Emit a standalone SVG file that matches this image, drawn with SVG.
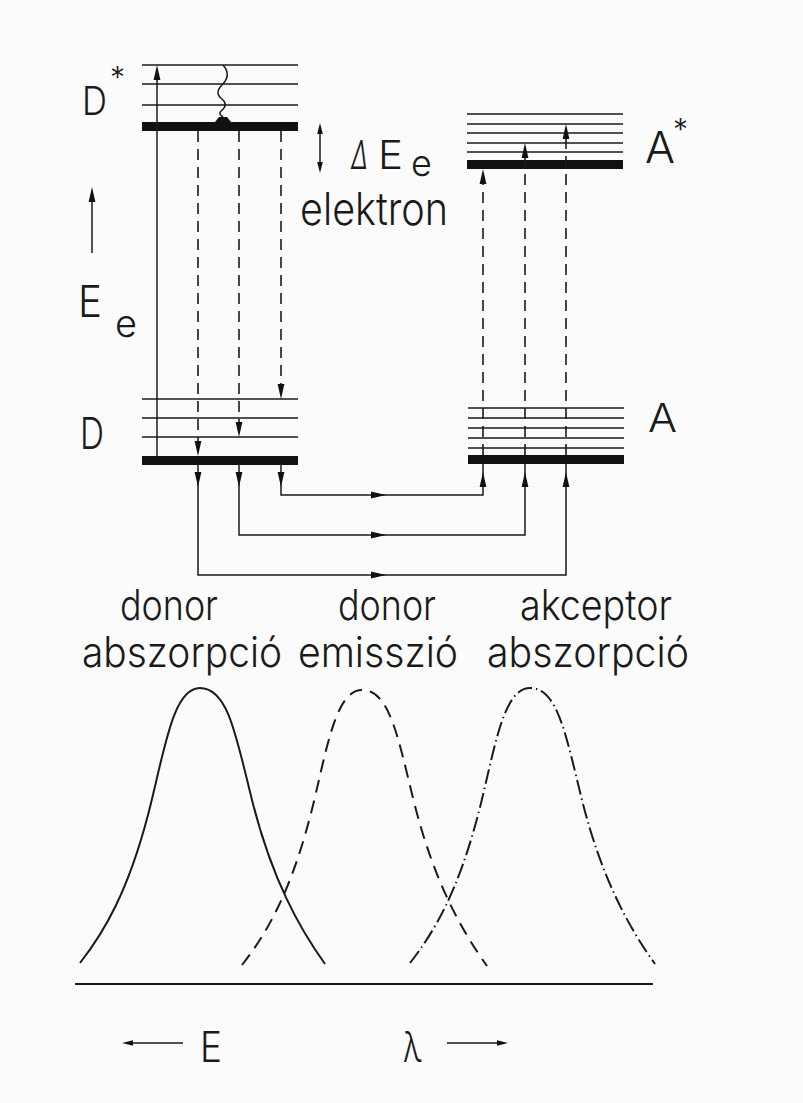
<svg xmlns="http://www.w3.org/2000/svg" xmlns:xlink="http://www.w3.org/1999/xlink" width="803" height="1103" viewBox="0 0 803 1103">
<style>
  .bg{fill:#fbfbfb}
  .thin{stroke:#1a1a1a;stroke-width:1.6;fill:none}
  .bar{fill:#111}
  .dash{stroke:#1a1a1a;stroke-width:1.6;fill:none;stroke-dasharray:11 7}
  .solid{stroke:#1a1a1a;stroke-width:1.5;fill:none}
  .head{fill:#111}
  .lbl{font-family:Inter,"Liberation Sans",Arial,sans-serif;font-weight:300;fill:#1a1a1a}
  .curve{stroke:#1a1a1a;stroke-width:2;fill:none}
</style>
<defs>
  <path id="ah" d="M0,0 L-3.4,15 L3.4,15 Z"/>
  <path id="ahs" d="M0,0 L-2.8,11 L2.8,11 Z"/>
  <path id="band" d="M-120,275 C-95,243 -72,203 -52,127 C-36,66 -28,0 0,0 C28,0 36,48 52,112 C72,192 100,241 125,276"/>
</defs>
<rect class="bg" x="0" y="0" width="803" height="1103"/>

<g id="Dstar">
  <line class="thin" x1="142" y1="65" x2="298" y2="65"/>
  <line class="thin" x1="142" y1="84" x2="298" y2="84"/>
  <line class="thin" x1="142" y1="105" x2="298" y2="105"/>
  <rect class="bar" x="142" y="122" width="156" height="9"/>
  <text class="lbl" x="82" y="115" font-size="39" textLength="25" lengthAdjust="spacingAndGlyphs">D</text>
  <text class="lbl" x="110" y="88" font-size="30">*</text>
</g>

<g id="D">
  <line class="thin" x1="142" y1="399" x2="298" y2="399"/>
  <line class="thin" x1="142" y1="418" x2="298" y2="418"/>
  <line class="thin" x1="142" y1="437" x2="298" y2="437"/>
  <rect class="bar" x="142" y="456" width="156" height="9"/>
  <text class="lbl" x="80" y="449" font-size="44" textLength="24" lengthAdjust="spacingAndGlyphs">D</text>
</g>

<g id="Astar">
  <line class="thin" x1="467" y1="114" x2="623" y2="114"/>
  <line class="thin" x1="467" y1="124" x2="623" y2="124"/>
  <line class="thin" x1="467" y1="133" x2="623" y2="133"/>
  <line class="thin" x1="467" y1="143" x2="623" y2="143"/>
  <line class="thin" x1="467" y1="152" x2="623" y2="152"/>
  <rect class="bar" x="467" y="160" width="156" height="9"/>
  <text class="lbl" x="645" y="163" font-size="44" textLength="30" lengthAdjust="spacingAndGlyphs">A</text>
  <text class="lbl" x="673" y="140" font-size="30">*</text>
</g>

<g id="A">
  <line class="thin" x1="468" y1="408" x2="624" y2="408"/>
  <line class="thin" x1="468" y1="418" x2="624" y2="418"/>
  <line class="thin" x1="468" y1="428" x2="624" y2="428"/>
  <line class="thin" x1="468" y1="438" x2="624" y2="438"/>
  <line class="thin" x1="468" y1="448" x2="624" y2="448"/>
  <rect class="bar" x="468" y="455" width="156" height="9"/>
  <text class="lbl" x="648" y="432" font-size="40" textLength="29" lengthAdjust="spacingAndGlyphs">A</text>
</g>

<g id="energy-labels">
  <line class="solid" x1="92" y1="195" x2="92" y2="253"/>
  <use href="#ah" xlink:href="#ah" class="head" transform="translate(92,187)"/>
  <text class="lbl" x="78" y="317" font-size="44" textLength="24" lengthAdjust="spacingAndGlyphs">E</text>
  <text class="lbl" x="115" y="337" font-size="38">e</text>
  <line class="solid" x1="320" y1="130" x2="320" y2="166"/>
  <use href="#ahs" xlink:href="#ahs" class="head" transform="translate(320,123)"/>
  <use href="#ahs" xlink:href="#ahs" class="head" transform="translate(320,173) rotate(180)"/>
  <text class="lbl" x="351" y="169" font-size="40" textLength="17" lengthAdjust="spacingAndGlyphs" font-style="italic">Δ</text>
  <text class="lbl" x="378" y="169" font-size="40" textLength="25" lengthAdjust="spacingAndGlyphs">E</text>
  <text class="lbl" x="411" y="176" font-size="36">e</text>
  <text class="lbl" x="300" y="225" font-size="45" textLength="148" lengthAdjust="spacingAndGlyphs">elektron</text>
</g>

<g id="connectors">
  <!-- D* excitation and relaxation -->
  <line class="solid" x1="157" y1="456" x2="157" y2="72"/>
  <use href="#ah" xlink:href="#ah" class="head" transform="translate(157,65)"/>
  <path class="solid" d="M223,65 Q232,75 222,85 Q214,93 222,99 Q229,105 221,111 Q218,114 223,117"/>
  <polygon class="head" points="215,122 231,122 227,117 219,117"/>
  <!-- donor emission -->
  <line class="dash" x1="198" y1="131" x2="198" y2="444"/>
  <line class="dash" x1="239" y1="131" x2="239" y2="425"/>
  <line class="dash" x1="281" y1="131" x2="281" y2="387"/>
  <use href="#ah" xlink:href="#ah" class="head" transform="translate(198,456) rotate(180)"/>
  <use href="#ah" xlink:href="#ah" class="head" transform="translate(239,437) rotate(180)"/>
  <use href="#ah" xlink:href="#ah" class="head" transform="translate(281,399) rotate(180)"/>
  <!-- acceptor absorption -->
  <line class="dash" x1="483" y1="455" x2="483" y2="181"/>
  <line class="dash" x1="525" y1="455" x2="525" y2="155"/>
  <line class="dash" x1="566" y1="455" x2="566" y2="136"/>
  <use href="#ah" xlink:href="#ah" class="head" transform="translate(483,169)"/>
  <use href="#ah" xlink:href="#ah" class="head" transform="translate(525,143)"/>
  <use href="#ah" xlink:href="#ah" class="head" transform="translate(566,124)"/>
  <!-- transfer paths -->
  <path class="solid" d="M281,464 V495 H483 V463"/>
  <path class="solid" d="M239,464 V535 H525 V463"/>
  <path class="solid" d="M198,464 V575 H566 V463"/>
  <use href="#ah" xlink:href="#ah" class="head" transform="translate(198,487) rotate(180)"/>
  <use href="#ah" xlink:href="#ah" class="head" transform="translate(239,487) rotate(180)"/>
  <use href="#ah" xlink:href="#ah" class="head" transform="translate(281,487) rotate(180)"/>
  <use href="#ah" xlink:href="#ah" class="head" transform="translate(386,495) rotate(90)"/>
  <use href="#ah" xlink:href="#ah" class="head" transform="translate(386,535) rotate(90)"/>
  <use href="#ah" xlink:href="#ah" class="head" transform="translate(386,575) rotate(90)"/>
  <use href="#ah" xlink:href="#ah" class="head" transform="translate(483,472)"/>
  <use href="#ah" xlink:href="#ah" class="head" transform="translate(525,472)"/>
  <use href="#ah" xlink:href="#ah" class="head" transform="translate(566,472)"/>
</g>

<g id="spectrum-labels">
  <text class="lbl" x="120" y="620" font-size="42" textLength="98" lengthAdjust="spacingAndGlyphs">donor</text>
  <text class="lbl" x="82" y="667" font-size="42" textLength="200" lengthAdjust="spacingAndGlyphs">abszorpció</text>
  <text class="lbl" x="338" y="620" font-size="42" textLength="98" lengthAdjust="spacingAndGlyphs">donor</text>
  <text class="lbl" x="298" y="667" font-size="42" textLength="160" lengthAdjust="spacingAndGlyphs">emisszió</text>
  <text class="lbl" x="520" y="620" font-size="42" textLength="152" lengthAdjust="spacingAndGlyphs">akceptor</text>
  <text class="lbl" x="487" y="667" font-size="42" textLength="202" lengthAdjust="spacingAndGlyphs">abszorpció</text>
</g>

<g id="spectra">
  <use href="#band" xlink:href="#band" class="curve" transform="translate(200,688)"/>
  <use href="#band" xlink:href="#band" class="curve" transform="translate(362,690)" stroke-dasharray="13 8"/>
  <use href="#band" xlink:href="#band" class="curve" transform="translate(530,688)" stroke-dasharray="15 4 1.5 4"/>
  <line class="curve" x1="75" y1="984" x2="653" y2="984"/>
</g>

<g id="axis-labels">
  <line class="solid" x1="130" y1="1043" x2="183" y2="1043"/>
  <use href="#ahs" xlink:href="#ahs" class="head" transform="translate(122,1043) rotate(-90)"/>
  <text class="lbl" x="200" y="1062" font-size="42" textLength="22" lengthAdjust="spacingAndGlyphs">E</text>
  <text class="lbl" x="403" y="1062" font-size="42" textLength="19" lengthAdjust="spacingAndGlyphs">λ</text>
  <line class="solid" x1="447" y1="1043" x2="500" y2="1043"/>
  <use href="#ahs" xlink:href="#ahs" class="head" transform="translate(508,1043) rotate(90)"/>
</g>
</svg>
